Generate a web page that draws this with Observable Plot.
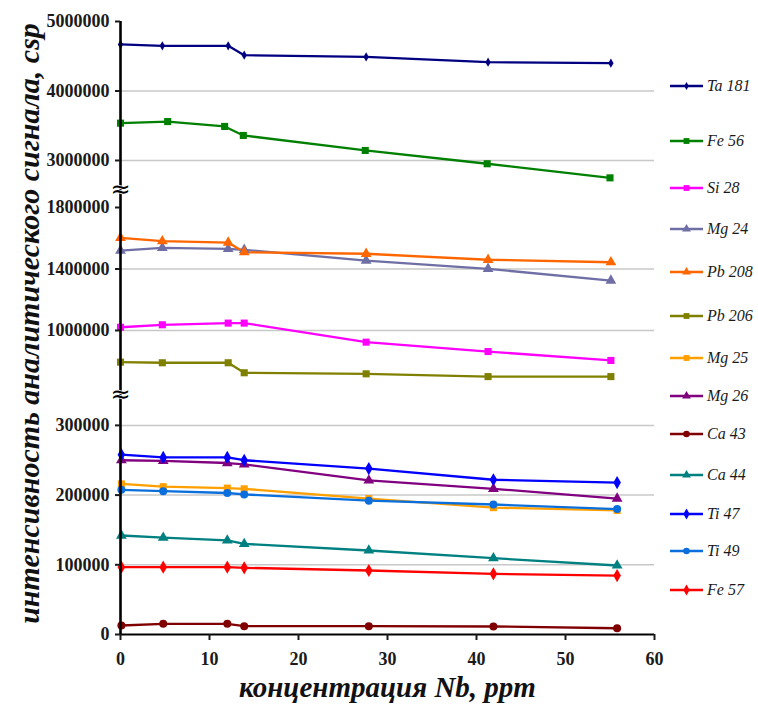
<!DOCTYPE html>
<html><head><meta charset="utf-8">
<script src="https://cdn.jsdelivr.net/npm/d3@7"></script>
<script src="https://cdn.jsdelivr.net/npm/@observablehq/plot@0.6"></script>
<style>
body{margin:0;background:#fff;}
#wrap{position:relative;width:758px;height:706px;overflow:hidden;}
#chart{position:absolute;left:0;top:0;}
#legend{position:absolute;left:668px;top:78px;font-family:"Liberation Serif",serif;font-style:italic;font-size:16px;color:#1a1a1a;}
.item{display:flex;align-items:center;height:16px;margin-bottom:24px;white-space:nowrap;}
.item:nth-child(1){margin-bottom:39px;}
.item:nth-child(2){margin-bottom:31px;}
.item:nth-child(3){margin-bottom:25px;}
.item:nth-child(4){margin-bottom:27px;}
.item:nth-child(5){margin-bottom:28px;}
.item:nth-child(6){margin-bottom:26px;}
.item:nth-child(7){margin-bottom:22px;}
.item:nth-child(8){margin-bottom:22px;}
.item:nth-child(9){margin-bottom:25px;}
.item:nth-child(10){margin-bottom:23px;}
.item:nth-child(11){margin-bottom:21px;}
.item:nth-child(12){margin-bottom:23px;}
.item svg{margin-right:3px;flex:none;}
</style></head><body><div id="wrap"><div id="chart"></div><div id="legend"></div></div>
<script>
// ---- data ----
const series = ["Ta 181","Fe 56","Si 28","Mg 24","Pb 208","Pb 206","Mg 25","Mg 26","Ca 43","Ca 44","Ti 47","Ti 49","Fe 57"];
const colors = ["#000080","#008000","#ff00ff","#6f6fa6","#ff6600","#808000","#ffa000","#800080","#800000","#008080","#0000ff","#0a6fdc","#ff0000"];
const symbols = ["diamond","square","square","triangle","triangle","square","square","triangle","circle","triangle","diamond","circle","diamond"];
// x (ppm) of the measurements
const xUpper = [0, 4.7, 12.1, 13.9, 27.6, 41.3, 55.1];
const xFe56  = [0, 5.3, 11.7, 13.8, 27.5, 41.2, 55.0];
const xLower = [0.1, 4.8, 12.0, 13.9, 27.9, 41.9, 55.8];
// intensities, cps
const ta181 = [4670000, 4650000, 4650000, 4515000, 4490000, 4415000, 4400000];
const fe56  = [3537000, 3560000, 3490000, 3360000, 3144000, 2953000, 2750000];
const si28  = [1021000, 1037000, 1048000, 1048000, 924000, 863000, 805000];
const mg24  = [1520000, 1538000, 1531000, 1525000, 1455000, 1401000, 1325000];
const pb208 = [1603000, 1581000, 1572000, 1509000, 1499000, 1460000, 1444000];
const pb206 = [794000, 790000, 790000, 725000, 718000, 700000, 700000];
const mg25  = [216000, 212000, 210000, 209000, 195000, 182000, 178000];
const mg26  = [250000, 249000, 246000, 244000, 221000, 209000, 195000];
const ca43  = [12900, 15300, 15300, 12000, 12000, 11500, 9000];
const ca44  = [142000, 139000, 135000, 130000, 120500, 109500, 99000];
const ti47  = [258000, 254000, 254000, 250000, 238000, 222000, 218000];
const ti49  = [207600, 205600, 203000, 201000, 192000, 186500, 180000];
const fe57  = [96600, 96600, 96600, 95700, 91800, 87000, 84600];
const values = [ta181, fe56, si28, mg24, pb208, pb206, mg25, mg26, ca43, ca44, ti47, ti49, fe57];
const xFor = [xUpper, xFe56, xUpper, xUpper, xUpper, xUpper, xLower, xLower, xLower, xLower, xLower, xLower, xLower];
const yTicks = [0, 100000, 200000, 300000, 1000000, 1400000, 1800000, 3000000, 4000000, 5000000];
const gridTicks = [100000, 200000, 300000, 1000000, 1400000, 3000000, 4000000];
const xTicks = [0, 10, 20, 30, 40, 50, 60];
const breaks = [440000, 2300000];
const xTitle = "концентрация Nb, ppm";
const yTitle = "интенсивность аналитического сигнала, csp";

const table = series.flatMap((s, i) => values[i].map((v, j) => ({series: s, x: xFor[i][j], y: v})));

const chart = Plot.plot({
  width: 680, height: 706,
  marginLeft: 120, marginRight: 26, marginTop: 20, marginBottom: 72,
  style: {fontFamily: "'Liberation Serif', serif", fontSize: "18px", fontWeight: "bold", color: "#1a1a1a", background: "transparent", overflow: "visible"},
  x: {domain: [0, 60]},
  y: {type: "linear", domain: [0, 340000, 620000, 1880000, 2650000, 5000000], range: [634, 397, 388.4, 194.7, 184.3, 21]},
  color: {domain: series, range: colors},
  symbol: {domain: series, range: symbols},
  marks: [
    Plot.gridY(gridTicks, {stroke: "#c8c8c8", strokeOpacity: 1, strokeWidth: 1.5}),
    Plot.line(table, {x: "x", y: "y", z: "series", stroke: "series", strokeWidth: 2.3}),
    Plot.dot(table.filter(d => d.series === "Ta 181"), {x: "x", y: "y", symbol: "series", fill: "series", stroke: "none", r: 2.8}),
    Plot.dot(table.filter(d => d.series !== "Ta 181"), {x: "x", y: "y", symbol: "series", fill: "series", stroke: "none", r: 4}),
    Plot.ruleY([0], {stroke: "#000", strokeWidth: 2.2}),
    Plot.ruleX([0], {y1: 0, y2: 5000000, stroke: "#000", strokeWidth: 2.6}),
    Plot.axisX({ticks: xTicks, tickSize: 6, tickPadding: 12, strokeWidth: 2, label: null, fontSize: 18, fontFamily: "Liberation Serif", fontWeight: "bold", color: "#1a1a1a"}),
    Plot.axisY({ticks: yTicks, tickSize: 5, tickPadding: 6, strokeWidth: 2, label: null, tickFormat: d => String(d), fontSize: 18, fontFamily: "Liberation Serif", fontWeight: "bold", color: "#1a1a1a"}),
    Plot.text(breaks, {x: 0, y: d => d, text: () => "≈", fontSize: 24, fontFamily: "DejaVu Sans", fontWeight: "normal", fill: "#000", stroke: "#fff", strokeWidth: 1.5}),
    Plot.text([xTitle], {frameAnchor: "bottom", textAnchor: "middle", dy: 62, text: d => d, fontSize: 29, fontFamily: "Liberation Serif", fontStyle: "italic", fontWeight: "bold", fill: "#111"}),
    Plot.text([yTitle], {frameAnchor: "left", textAnchor: "middle", rotate: -90, dx: -91, dy: -4, text: d => d, fontSize: 30, fontFamily: "Liberation Serif", fontStyle: "italic", fontWeight: "bold", fill: "#111"})
  ]
});
document.getElementById("chart").appendChild(chart);

// ---- legend ----
const symMap = {square: d3.symbolSquare, triangle: d3.symbolTriangle, circle: d3.symbolCircle, diamond: d3.symbolDiamond};
const legend = d3.select("#legend");
series.forEach((s, i) => {
  const item = legend.append("div").attr("class", "item");
  const svg = item.append("svg").attr("width", 36).attr("height", 12);
  svg.append("line").attr("x1", 2).attr("x2", 35).attr("y1", 6).attr("y2", 6).attr("stroke", colors[i]).attr("stroke-width", 2.3);
  svg.append("path").attr("transform", "translate(18.5,6)")
    .attr("d", d3.symbol(symMap[symbols[i]], i === 0 ? 18 : 34)()).attr("fill", colors[i]);
  item.append("span").text(s);
});
</script></body></html>
